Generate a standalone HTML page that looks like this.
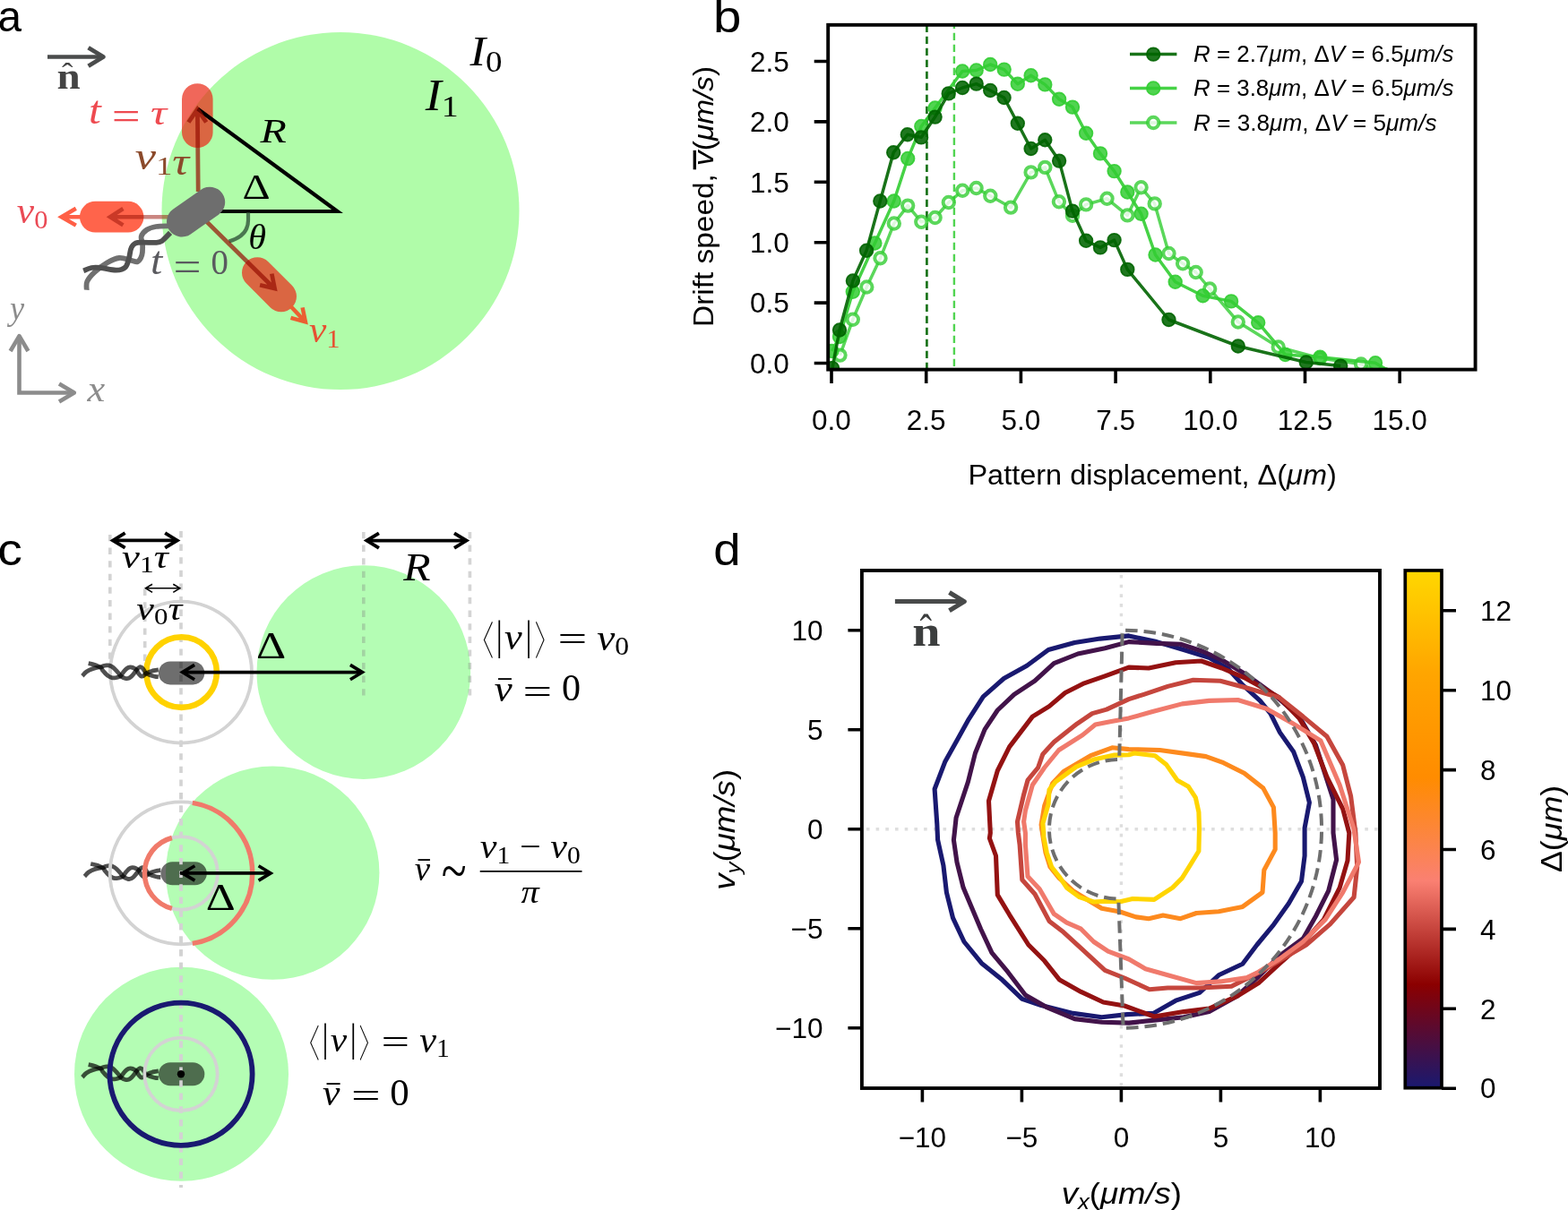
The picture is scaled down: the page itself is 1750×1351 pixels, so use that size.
<!DOCTYPE html>
<html><head><meta charset="utf-8"><title>Figure</title>
<style>html,body{margin:0;padding:0;background:#fff;width:1750px;height:1351px;overflow:hidden}svg{display:block}</style>
</head><body>
<svg width="1750" height="1351" viewBox="0 0 1750 1351">
<rect width="1750" height="1351" fill="#fff"/>
<text transform="matrix(0.4769 0 0 0.4873 -2.41 35.31)" font-family="'Liberation Sans', Arial, Helvetica, sans-serif" font-size="100" fill="#000">a</text>
<circle cx="380" cy="235.5" r="199.5" fill="#b0fca9"/>
<text transform="matrix(0.5273 0 0 0.4709 524.4 73.41)" font-family="'Liberation Serif', 'Times New Roman', serif" font-size="100" fill="#000"><tspan font-style="italic">I</tspan><tspan font-size="70" dy="14">0</tspan></text>
<text transform="matrix(0.5406 0 0 0.4962 474.7 123.05)" font-family="'Liberation Serif', 'Times New Roman', serif" font-size="100" fill="#000"><tspan font-style="italic">I</tspan><tspan font-size="70" dy="14">1</tspan></text>
<text transform="matrix(0.4797 0 0 0.3877 290.4 159.2)" font-family="'Liberation Serif', 'Times New Roman', serif" font-size="100" fill="#000" font-style="italic">R</text>
<text transform="matrix(0.4842 0 0 0.4076 270.46 221.6)" font-family="'Liberation Serif', 'Times New Roman', serif" font-size="100" fill="#000">&#916;</text>
<rect x="203" y="93.2" width="34.6" height="71.8" rx="17.3" fill="rgb(234,44,26)" fill-opacity="0.72"/>
<rect x="89" y="224.8" width="71.4" height="34.8" rx="17.4" fill="#ff644b"/>
<rect x="-36" y="-17.2" width="72" height="34.4" rx="17.2" fill="rgb(234,44,26)" fill-opacity="0.72" transform="translate(300.5,317.7) rotate(45)"/>
<path d="M90,242.2 L70,242.2 M84.8,232.8 L68.6,242.2 L84.8,251.6" fill="none" stroke="#ff5f46" stroke-width="4.5" stroke-linejoin="miter"/>
<path d="M324,341.5 L340,358.5 M324.5,354.8 L340.9,359.4 L337.6,343.4" fill="none" stroke="#eb5f32" stroke-width="4.5" stroke-linejoin="miter"/>
<polyline points="220.5,121.5 376.5,236 230,236" fill="none" stroke="#000" stroke-width="4.2" stroke-linejoin="miter" stroke-miterlimit="10"/>
<path d="M277,237.5 L277,246 C277,259 268,266 255.5,269.5" fill="none" stroke="#4a7650" stroke-width="4.2"/>
<text transform="matrix(0.4024 0 0 0.4 277.29 277.9)" font-family="'Liberation Serif', 'Times New Roman', serif" font-size="100" fill="#000" font-style="italic">&#952;</text>
<path d="M221.2,214 L220.4,124 M210.4,136.5 L220.3,122.1 L230.2,136.5" fill="none" stroke="rgb(149,14,3)" stroke-opacity="0.7" stroke-width="4.8" stroke-linejoin="miter"/>
<path d="M220,237 L305,321 M290.1,318.3 L306.6,322.1 L303.3,305.6" fill="none" stroke="rgb(149,14,3)" stroke-opacity="0.7" stroke-width="4.7" stroke-linejoin="miter"/>
<path d="M192,242.2 L125,242.2 M137.4,233 L122.9,242.2 L137.4,251.4" fill="none" stroke="rgb(149,14,3)" stroke-opacity="0.5" stroke-width="4.5" stroke-linejoin="miter"/>
<path d="M187.9,252.3 C185.62,252.42 178.2,252.3 174.2,253 C170.2,253.7 166.65,254.67 163.9,256.5 C161.15,258.33 158.5,261.27 157.7,264 C156.9,266.73 158.98,269.47 159.1,272.9 C159.22,276.33 159.32,281.4 158.4,284.6 C157.48,287.8 155.55,291.07 153.6,292.1 C151.65,293.13 150.13,291.48 146.7,290.8 C143.27,290.12 137.57,287.55 133,288 C128.43,288.45 123.87,290.87 119.3,293.5 C114.73,296.13 109.27,300.37 105.6,303.8 C101.93,307.23 98.78,310.78 97.3,314.1 C95.82,317.42 96.8,322.1 96.7,323.7" fill="none" stroke="#707070" stroke-width="5.8"/>
<path d="M190,259.9 C188.5,261.38 183.63,266.97 181,268.8 C178.37,270.63 178.77,270.55 174.2,270.9 C169.63,271.25 158.18,269.98 153.6,270.9 C149.02,271.82 148.3,273.55 146.7,276.4 C145.1,279.25 145.13,284.35 144,288 C142.87,291.65 142.3,296.02 139.9,298.3 C137.5,300.58 134.18,301.58 129.6,301.7 C125.02,301.82 116.98,299.45 112.4,299 C107.82,298.55 105.3,298.43 102.1,299 C98.9,299.57 94.68,301.83 93.2,302.4" fill="none" stroke="#505050" stroke-width="5.8"/>
<rect x="-36" y="-17" width="72" height="34" rx="17" fill="#6e6e6e" transform="translate(218.6,236.6) rotate(-35)"/>
<text transform="matrix(0.4962 0 0 0.4368 99.12 138.46)" font-family="'Liberation Serif', 'Times New Roman', serif" font-size="100" fill="#ee4a50"><tspan font-style="italic">t</tspan></text>
<text transform="matrix(0.566 0 0 0.448 124.87 144.01)" font-family="'Liberation Serif', 'Times New Roman', serif" font-size="100" fill="#ee4a50">=</text>
<text transform="matrix(0.5081 0 0 0.383 167.88 138.62)" font-family="'Liberation Serif', 'Times New Roman', serif" font-size="100" fill="#ee4a50"><tspan font-style="italic">&#964;</tspan></text>
<text transform="matrix(0.525 0 0 0.4344 150.65 188.88)" font-family="'Liberation Serif', 'Times New Roman', serif" font-size="100" fill="#8b4a2b"><tspan font-style="italic">v</tspan><tspan font-size="70" dy="14">1</tspan><tspan font-style="italic">&#964;</tspan></text>
<text transform="matrix(0.4769 0 0 0.4333 168.09 306.47)" font-family="'Liberation Serif', 'Times New Roman', serif" font-size="100" fill="#5a5a5f"><tspan font-style="italic">t</tspan></text>
<text transform="matrix(0.5511 0 0 0.456 193.54 312.58)" font-family="'Liberation Serif', 'Times New Roman', serif" font-size="100" fill="#5a5a5f">=</text>
<text transform="matrix(0.3881 0 0 0.3955 235.45 306.11)" font-family="'Liberation Serif', 'Times New Roman', serif" font-size="100" fill="#5a5a5f">0</text>
<text transform="matrix(0.4347 0 0 0.4133 18.83 248.71)" font-family="'Liberation Serif', 'Times New Roman', serif" font-size="100" fill="#ea4a55"><tspan font-style="italic">v</tspan><tspan font-size="70" dy="14">0</tspan></text>
<text transform="matrix(0.4356 0 0 0.4067 344.93 382.31)" font-family="'Liberation Serif', 'Times New Roman', serif" font-size="100" fill="#e65032"><tspan font-style="italic">v</tspan><tspan font-size="70" dy="14">1</tspan></text>
<line x1="53" y1="63.5" x2="114" y2="63.5" stroke="#4a4c4c" stroke-width="4.7"/>
<polyline points="98.6,53.3 115.4,63.5 98.6,73.7" fill="none" stroke="#4a4c4c" stroke-width="4.8" stroke-linejoin="round"/>
<text transform="matrix(0.4706 0 0 0.3936 63.39 99.1)" font-family="'Liberation Serif', 'Times New Roman', serif" font-size="100" fill="#444" font-weight="bold">n</text>
<text transform="matrix(0.375 0 0 0.34 69.03 94.1)" font-family="'Liberation Serif', 'Times New Roman', serif" font-size="100" fill="#444">&#710;</text>
<path d="M21.5,440.8 L21.5,377 M19.2,438.5 L81,438.5" fill="none" stroke="#8c8c8c" stroke-width="4.6"/>
<polyline points="11.6,392 21.5,375.2 31.4,392" fill="none" stroke="#8c8c8c" stroke-width="4.6" stroke-linejoin="round"/>
<polyline points="66,428.6 82.8,438.5 66,448.4" fill="none" stroke="#8c8c8c" stroke-width="4.6" stroke-linejoin="round"/>
<text transform="matrix(0.3635 0 0 0.3836 10.91 357.34)" font-family="'Liberation Serif', 'Times New Roman', serif" font-size="100" fill="#8c8c8c"><tspan font-style="italic">y</tspan></text>
<text transform="matrix(0.4444 0 0 0.3978 97.54 447.7)" font-family="'Liberation Serif', 'Times New Roman', serif" font-size="100" fill="#8c8c8c"><tspan font-style="italic">x</tspan></text>
<text transform="matrix(0.5636 0 0 0.5068 796.05 35.8)" font-family="'Liberation Sans', Arial, Helvetica, sans-serif" font-size="100" fill="#000">b</text>
<defs><clipPath id="clipb"><rect x="924.2" y="27.8" width="722.3999999999999" height="384.8"/></clipPath></defs>
<line x1="1034.4" y1="27.8" x2="1034.4" y2="412.6" stroke="#006400" stroke-opacity="0.9" stroke-width="2.7" stroke-dasharray="8.3,4.7"/>
<line x1="1064.9" y1="27.8" x2="1064.9" y2="412.6" stroke="#32cd32" stroke-opacity="0.85" stroke-width="2.4" stroke-dasharray="8.3,4.7" stroke-dashoffset="4"/>
<g clip-path="url(#clipb)">
<polyline points="937.5,396.6 951.8,356.8 967.3,320.5 982.5,288.3 997.8,249.5 1013.2,229.6 1028.3,247.8 1043.6,243 1058.8,226 1074.2,212.8 1089.6,210 1105.3,218.7 1128.1,231.6 1150.6,192.4 1166.3,186.9 1181.9,225.3 1197,240.8 1212.1,228.4 1235.5,221.8 1258.3,240.4 1273.6,209.3 1288.7,227.4 1304.5,283 1320.1,294.3 1334.7,304 1350.2,322.5 1381.8,359.5 1426.7,387.5 1473.3,400 1519,406.5 1545,418" fill="none" stroke="#32cd32" stroke-opacity="0.8" stroke-width="3.5" stroke-linejoin="round"/>
<circle cx="937.5" cy="396.6" r="6.2" fill="#fff" fill-opacity="0.8" stroke="#32cd32" stroke-opacity="0.8" stroke-width="4"/>
<circle cx="951.8" cy="356.8" r="6.2" fill="#fff" fill-opacity="0.8" stroke="#32cd32" stroke-opacity="0.8" stroke-width="4"/>
<circle cx="967.3" cy="320.5" r="6.2" fill="#fff" fill-opacity="0.8" stroke="#32cd32" stroke-opacity="0.8" stroke-width="4"/>
<circle cx="982.5" cy="288.3" r="6.2" fill="#fff" fill-opacity="0.8" stroke="#32cd32" stroke-opacity="0.8" stroke-width="4"/>
<circle cx="997.8" cy="249.5" r="6.2" fill="#fff" fill-opacity="0.8" stroke="#32cd32" stroke-opacity="0.8" stroke-width="4"/>
<circle cx="1013.2" cy="229.6" r="6.2" fill="#fff" fill-opacity="0.8" stroke="#32cd32" stroke-opacity="0.8" stroke-width="4"/>
<circle cx="1028.3" cy="247.8" r="6.2" fill="#fff" fill-opacity="0.8" stroke="#32cd32" stroke-opacity="0.8" stroke-width="4"/>
<circle cx="1043.6" cy="243" r="6.2" fill="#fff" fill-opacity="0.8" stroke="#32cd32" stroke-opacity="0.8" stroke-width="4"/>
<circle cx="1058.8" cy="226" r="6.2" fill="#fff" fill-opacity="0.8" stroke="#32cd32" stroke-opacity="0.8" stroke-width="4"/>
<circle cx="1074.2" cy="212.8" r="6.2" fill="#fff" fill-opacity="0.8" stroke="#32cd32" stroke-opacity="0.8" stroke-width="4"/>
<circle cx="1089.6" cy="210" r="6.2" fill="#fff" fill-opacity="0.8" stroke="#32cd32" stroke-opacity="0.8" stroke-width="4"/>
<circle cx="1105.3" cy="218.7" r="6.2" fill="#fff" fill-opacity="0.8" stroke="#32cd32" stroke-opacity="0.8" stroke-width="4"/>
<circle cx="1128.1" cy="231.6" r="6.2" fill="#fff" fill-opacity="0.8" stroke="#32cd32" stroke-opacity="0.8" stroke-width="4"/>
<circle cx="1150.6" cy="192.4" r="6.2" fill="#fff" fill-opacity="0.8" stroke="#32cd32" stroke-opacity="0.8" stroke-width="4"/>
<circle cx="1166.3" cy="186.9" r="6.2" fill="#fff" fill-opacity="0.8" stroke="#32cd32" stroke-opacity="0.8" stroke-width="4"/>
<circle cx="1181.9" cy="225.3" r="6.2" fill="#fff" fill-opacity="0.8" stroke="#32cd32" stroke-opacity="0.8" stroke-width="4"/>
<circle cx="1197" cy="240.8" r="6.2" fill="#fff" fill-opacity="0.8" stroke="#32cd32" stroke-opacity="0.8" stroke-width="4"/>
<circle cx="1212.1" cy="228.4" r="6.2" fill="#fff" fill-opacity="0.8" stroke="#32cd32" stroke-opacity="0.8" stroke-width="4"/>
<circle cx="1235.5" cy="221.8" r="6.2" fill="#fff" fill-opacity="0.8" stroke="#32cd32" stroke-opacity="0.8" stroke-width="4"/>
<circle cx="1258.3" cy="240.4" r="6.2" fill="#fff" fill-opacity="0.8" stroke="#32cd32" stroke-opacity="0.8" stroke-width="4"/>
<circle cx="1273.6" cy="209.3" r="6.2" fill="#fff" fill-opacity="0.8" stroke="#32cd32" stroke-opacity="0.8" stroke-width="4"/>
<circle cx="1288.7" cy="227.4" r="6.2" fill="#fff" fill-opacity="0.8" stroke="#32cd32" stroke-opacity="0.8" stroke-width="4"/>
<circle cx="1304.5" cy="283" r="6.2" fill="#fff" fill-opacity="0.8" stroke="#32cd32" stroke-opacity="0.8" stroke-width="4"/>
<circle cx="1320.1" cy="294.3" r="6.2" fill="#fff" fill-opacity="0.8" stroke="#32cd32" stroke-opacity="0.8" stroke-width="4"/>
<circle cx="1334.7" cy="304" r="6.2" fill="#fff" fill-opacity="0.8" stroke="#32cd32" stroke-opacity="0.8" stroke-width="4"/>
<circle cx="1350.2" cy="322.5" r="6.2" fill="#fff" fill-opacity="0.8" stroke="#32cd32" stroke-opacity="0.8" stroke-width="4"/>
<circle cx="1381.8" cy="359.5" r="6.2" fill="#fff" fill-opacity="0.8" stroke="#32cd32" stroke-opacity="0.8" stroke-width="4"/>
<circle cx="1426.7" cy="387.5" r="6.2" fill="#fff" fill-opacity="0.8" stroke="#32cd32" stroke-opacity="0.8" stroke-width="4"/>
<circle cx="1473.3" cy="400" r="6.2" fill="#fff" fill-opacity="0.8" stroke="#32cd32" stroke-opacity="0.8" stroke-width="4"/>
<circle cx="1519" cy="406.5" r="6.2" fill="#fff" fill-opacity="0.8" stroke="#32cd32" stroke-opacity="0.8" stroke-width="4"/>
<circle cx="1545" cy="418" r="6.2" fill="#fff" fill-opacity="0.8" stroke="#32cd32" stroke-opacity="0.8" stroke-width="4"/>
<polyline points="928.5,392 937,376 951.8,325.8 976.4,271.5 997.7,224.5 1013.2,177 1028.3,141 1043.6,120.5 1074.1,79.5 1089.7,78.5 1105.2,72 1120.7,77.6 1135.8,93.8 1150.6,84.2 1166.3,94.4 1182.1,110.8 1197,119.6 1212.1,148.7 1228,171.4 1243.6,191.1 1258.3,214.5 1273.6,238.7 1289.5,284.5 1311.7,314.7 1342.5,330.2 1374.1,336.4 1404.2,360.3 1434.5,396 1473.3,398.7 1535,405.2 1560,420" fill="none" stroke="#32cd32" stroke-opacity="0.9" stroke-width="3.5" stroke-linejoin="round"/>
<circle cx="928.5" cy="392" r="7.3" fill="#32cd32" fill-opacity="0.85" stroke="#32cd32" stroke-opacity="0.9" stroke-width="1.8"/>
<circle cx="937" cy="376" r="7.3" fill="#32cd32" fill-opacity="0.85" stroke="#32cd32" stroke-opacity="0.9" stroke-width="1.8"/>
<circle cx="951.8" cy="325.8" r="7.3" fill="#32cd32" fill-opacity="0.85" stroke="#32cd32" stroke-opacity="0.9" stroke-width="1.8"/>
<circle cx="976.4" cy="271.5" r="7.3" fill="#32cd32" fill-opacity="0.85" stroke="#32cd32" stroke-opacity="0.9" stroke-width="1.8"/>
<circle cx="997.7" cy="224.5" r="7.3" fill="#32cd32" fill-opacity="0.85" stroke="#32cd32" stroke-opacity="0.9" stroke-width="1.8"/>
<circle cx="1013.2" cy="177" r="7.3" fill="#32cd32" fill-opacity="0.85" stroke="#32cd32" stroke-opacity="0.9" stroke-width="1.8"/>
<circle cx="1028.3" cy="141" r="7.3" fill="#32cd32" fill-opacity="0.85" stroke="#32cd32" stroke-opacity="0.9" stroke-width="1.8"/>
<circle cx="1043.6" cy="120.5" r="7.3" fill="#32cd32" fill-opacity="0.85" stroke="#32cd32" stroke-opacity="0.9" stroke-width="1.8"/>
<circle cx="1074.1" cy="79.5" r="7.3" fill="#32cd32" fill-opacity="0.85" stroke="#32cd32" stroke-opacity="0.9" stroke-width="1.8"/>
<circle cx="1089.7" cy="78.5" r="7.3" fill="#32cd32" fill-opacity="0.85" stroke="#32cd32" stroke-opacity="0.9" stroke-width="1.8"/>
<circle cx="1105.2" cy="72" r="7.3" fill="#32cd32" fill-opacity="0.85" stroke="#32cd32" stroke-opacity="0.9" stroke-width="1.8"/>
<circle cx="1120.7" cy="77.6" r="7.3" fill="#32cd32" fill-opacity="0.85" stroke="#32cd32" stroke-opacity="0.9" stroke-width="1.8"/>
<circle cx="1135.8" cy="93.8" r="7.3" fill="#32cd32" fill-opacity="0.85" stroke="#32cd32" stroke-opacity="0.9" stroke-width="1.8"/>
<circle cx="1150.6" cy="84.2" r="7.3" fill="#32cd32" fill-opacity="0.85" stroke="#32cd32" stroke-opacity="0.9" stroke-width="1.8"/>
<circle cx="1166.3" cy="94.4" r="7.3" fill="#32cd32" fill-opacity="0.85" stroke="#32cd32" stroke-opacity="0.9" stroke-width="1.8"/>
<circle cx="1182.1" cy="110.8" r="7.3" fill="#32cd32" fill-opacity="0.85" stroke="#32cd32" stroke-opacity="0.9" stroke-width="1.8"/>
<circle cx="1197" cy="119.6" r="7.3" fill="#32cd32" fill-opacity="0.85" stroke="#32cd32" stroke-opacity="0.9" stroke-width="1.8"/>
<circle cx="1212.1" cy="148.7" r="7.3" fill="#32cd32" fill-opacity="0.85" stroke="#32cd32" stroke-opacity="0.9" stroke-width="1.8"/>
<circle cx="1228" cy="171.4" r="7.3" fill="#32cd32" fill-opacity="0.85" stroke="#32cd32" stroke-opacity="0.9" stroke-width="1.8"/>
<circle cx="1243.6" cy="191.1" r="7.3" fill="#32cd32" fill-opacity="0.85" stroke="#32cd32" stroke-opacity="0.9" stroke-width="1.8"/>
<circle cx="1258.3" cy="214.5" r="7.3" fill="#32cd32" fill-opacity="0.85" stroke="#32cd32" stroke-opacity="0.9" stroke-width="1.8"/>
<circle cx="1273.6" cy="238.7" r="7.3" fill="#32cd32" fill-opacity="0.85" stroke="#32cd32" stroke-opacity="0.9" stroke-width="1.8"/>
<circle cx="1289.5" cy="284.5" r="7.3" fill="#32cd32" fill-opacity="0.85" stroke="#32cd32" stroke-opacity="0.9" stroke-width="1.8"/>
<circle cx="1311.7" cy="314.7" r="7.3" fill="#32cd32" fill-opacity="0.85" stroke="#32cd32" stroke-opacity="0.9" stroke-width="1.8"/>
<circle cx="1342.5" cy="330.2" r="7.3" fill="#32cd32" fill-opacity="0.85" stroke="#32cd32" stroke-opacity="0.9" stroke-width="1.8"/>
<circle cx="1374.1" cy="336.4" r="7.3" fill="#32cd32" fill-opacity="0.85" stroke="#32cd32" stroke-opacity="0.9" stroke-width="1.8"/>
<circle cx="1404.2" cy="360.3" r="7.3" fill="#32cd32" fill-opacity="0.85" stroke="#32cd32" stroke-opacity="0.9" stroke-width="1.8"/>
<circle cx="1434.5" cy="396" r="7.3" fill="#32cd32" fill-opacity="0.85" stroke="#32cd32" stroke-opacity="0.9" stroke-width="1.8"/>
<circle cx="1473.3" cy="398.7" r="7.3" fill="#32cd32" fill-opacity="0.85" stroke="#32cd32" stroke-opacity="0.9" stroke-width="1.8"/>
<circle cx="1535" cy="405.2" r="7.3" fill="#32cd32" fill-opacity="0.85" stroke="#32cd32" stroke-opacity="0.9" stroke-width="1.8"/>
<circle cx="1560" cy="420" r="7.3" fill="#32cd32" fill-opacity="0.85" stroke="#32cd32" stroke-opacity="0.9" stroke-width="1.8"/>
<polyline points="929,411 937,368.5 951.9,313.5 967.1,279.8 982.3,224.5 997.2,170.3 1012.8,150.2 1028.1,153.4 1043.6,130.6 1058.7,104.4 1074.1,98 1089.7,93.6 1105.2,101 1120.6,109 1135.8,137.8 1150.6,166 1166.3,156.3 1182.1,179.6 1197,235.6 1212.1,268.8 1228,276.4 1243.6,268.1 1258.3,300.9 1304.5,357 1381.8,386.5 1457.8,404.5 1496.2,408.6" fill="none" stroke="#006400" stroke-opacity="0.9" stroke-width="3.5" stroke-linejoin="round"/>
<circle cx="929" cy="411" r="7.3" fill="#006400" fill-opacity="0.88" stroke="#006400" stroke-opacity="0.9" stroke-width="1.8"/>
<circle cx="937" cy="368.5" r="7.3" fill="#006400" fill-opacity="0.88" stroke="#006400" stroke-opacity="0.9" stroke-width="1.8"/>
<circle cx="951.9" cy="313.5" r="7.3" fill="#006400" fill-opacity="0.88" stroke="#006400" stroke-opacity="0.9" stroke-width="1.8"/>
<circle cx="967.1" cy="279.8" r="7.3" fill="#006400" fill-opacity="0.88" stroke="#006400" stroke-opacity="0.9" stroke-width="1.8"/>
<circle cx="982.3" cy="224.5" r="7.3" fill="#006400" fill-opacity="0.88" stroke="#006400" stroke-opacity="0.9" stroke-width="1.8"/>
<circle cx="997.2" cy="170.3" r="7.3" fill="#006400" fill-opacity="0.88" stroke="#006400" stroke-opacity="0.9" stroke-width="1.8"/>
<circle cx="1012.8" cy="150.2" r="7.3" fill="#006400" fill-opacity="0.88" stroke="#006400" stroke-opacity="0.9" stroke-width="1.8"/>
<circle cx="1028.1" cy="153.4" r="7.3" fill="#006400" fill-opacity="0.88" stroke="#006400" stroke-opacity="0.9" stroke-width="1.8"/>
<circle cx="1043.6" cy="130.6" r="7.3" fill="#006400" fill-opacity="0.88" stroke="#006400" stroke-opacity="0.9" stroke-width="1.8"/>
<circle cx="1058.7" cy="104.4" r="7.3" fill="#006400" fill-opacity="0.88" stroke="#006400" stroke-opacity="0.9" stroke-width="1.8"/>
<circle cx="1074.1" cy="98" r="7.3" fill="#006400" fill-opacity="0.88" stroke="#006400" stroke-opacity="0.9" stroke-width="1.8"/>
<circle cx="1089.7" cy="93.6" r="7.3" fill="#006400" fill-opacity="0.88" stroke="#006400" stroke-opacity="0.9" stroke-width="1.8"/>
<circle cx="1105.2" cy="101" r="7.3" fill="#006400" fill-opacity="0.88" stroke="#006400" stroke-opacity="0.9" stroke-width="1.8"/>
<circle cx="1120.6" cy="109" r="7.3" fill="#006400" fill-opacity="0.88" stroke="#006400" stroke-opacity="0.9" stroke-width="1.8"/>
<circle cx="1135.8" cy="137.8" r="7.3" fill="#006400" fill-opacity="0.88" stroke="#006400" stroke-opacity="0.9" stroke-width="1.8"/>
<circle cx="1150.6" cy="166" r="7.3" fill="#006400" fill-opacity="0.88" stroke="#006400" stroke-opacity="0.9" stroke-width="1.8"/>
<circle cx="1166.3" cy="156.3" r="7.3" fill="#006400" fill-opacity="0.88" stroke="#006400" stroke-opacity="0.9" stroke-width="1.8"/>
<circle cx="1182.1" cy="179.6" r="7.3" fill="#006400" fill-opacity="0.88" stroke="#006400" stroke-opacity="0.9" stroke-width="1.8"/>
<circle cx="1197" cy="235.6" r="7.3" fill="#006400" fill-opacity="0.88" stroke="#006400" stroke-opacity="0.9" stroke-width="1.8"/>
<circle cx="1212.1" cy="268.8" r="7.3" fill="#006400" fill-opacity="0.88" stroke="#006400" stroke-opacity="0.9" stroke-width="1.8"/>
<circle cx="1228" cy="276.4" r="7.3" fill="#006400" fill-opacity="0.88" stroke="#006400" stroke-opacity="0.9" stroke-width="1.8"/>
<circle cx="1243.6" cy="268.1" r="7.3" fill="#006400" fill-opacity="0.88" stroke="#006400" stroke-opacity="0.9" stroke-width="1.8"/>
<circle cx="1258.3" cy="300.9" r="7.3" fill="#006400" fill-opacity="0.88" stroke="#006400" stroke-opacity="0.9" stroke-width="1.8"/>
<circle cx="1304.5" cy="357" r="7.3" fill="#006400" fill-opacity="0.88" stroke="#006400" stroke-opacity="0.9" stroke-width="1.8"/>
<circle cx="1381.8" cy="386.5" r="7.3" fill="#006400" fill-opacity="0.88" stroke="#006400" stroke-opacity="0.9" stroke-width="1.8"/>
<circle cx="1457.8" cy="404.5" r="7.3" fill="#006400" fill-opacity="0.88" stroke="#006400" stroke-opacity="0.9" stroke-width="1.8"/>
<circle cx="1496.2" cy="408.6" r="7.3" fill="#006400" fill-opacity="0.88" stroke="#006400" stroke-opacity="0.9" stroke-width="1.8"/>
</g>
<rect x="924.2" y="27.8" width="722.3999999999999" height="384.8" fill="none" stroke="#000" stroke-width="3.9"/>
<text x="880.8" y="416.7" font-family="'Liberation Sans', Arial, Helvetica, sans-serif" font-size="31.5" fill="#000" text-anchor="end">0.0</text>
<text x="880.8" y="349.3" font-family="'Liberation Sans', Arial, Helvetica, sans-serif" font-size="31.5" fill="#000" text-anchor="end">0.5</text>
<text x="880.8" y="281.9" font-family="'Liberation Sans', Arial, Helvetica, sans-serif" font-size="31.5" fill="#000" text-anchor="end">1.0</text>
<text x="880.8" y="214.5" font-family="'Liberation Sans', Arial, Helvetica, sans-serif" font-size="31.5" fill="#000" text-anchor="end">1.5</text>
<text x="880.8" y="147.1" font-family="'Liberation Sans', Arial, Helvetica, sans-serif" font-size="31.5" fill="#000" text-anchor="end">2.0</text>
<text x="880.8" y="79.7" font-family="'Liberation Sans', Arial, Helvetica, sans-serif" font-size="31.5" fill="#000" text-anchor="end">2.5</text>
<text x="928" y="479.6" font-family="'Liberation Sans', Arial, Helvetica, sans-serif" font-size="31.5" fill="#000" text-anchor="middle">0.0</text>
<text x="1033.7" y="479.6" font-family="'Liberation Sans', Arial, Helvetica, sans-serif" font-size="31.5" fill="#000" text-anchor="middle">2.5</text>
<text x="1139.4" y="479.6" font-family="'Liberation Sans', Arial, Helvetica, sans-serif" font-size="31.5" fill="#000" text-anchor="middle">5.0</text>
<text x="1245.1" y="479.6" font-family="'Liberation Sans', Arial, Helvetica, sans-serif" font-size="31.5" fill="#000" text-anchor="middle">7.5</text>
<text x="1350.8" y="479.6" font-family="'Liberation Sans', Arial, Helvetica, sans-serif" font-size="31.5" fill="#000" text-anchor="middle">10.0</text>
<text x="1456.5" y="479.6" font-family="'Liberation Sans', Arial, Helvetica, sans-serif" font-size="31.5" fill="#000" text-anchor="middle">12.5</text>
<text x="1562.2" y="479.6" font-family="'Liberation Sans', Arial, Helvetica, sans-serif" font-size="31.5" fill="#000" text-anchor="middle">15.0</text>
<path d="M908.7,405.5 L924.2,405.5 M908.7,338.1 L924.2,338.1 M908.7,270.7 L924.2,270.7 M908.7,203.3 L924.2,203.3 M908.7,135.9 L924.2,135.9 M908.7,68.5 L924.2,68.5 M928,412.6 L928,428.1 M1033.7,412.6 L1033.7,428.1 M1139.4,412.6 L1139.4,428.1 M1245.1,412.6 L1245.1,428.1 M1350.8,412.6 L1350.8,428.1 M1456.5,412.6 L1456.5,428.1 M1562.2,412.6 L1562.2,428.1" stroke="#000" stroke-width="3.6" fill="none"/>
<text transform="matrix(0.3248 0 0 0.3202 1080.4 541.48)" font-family="'Liberation Sans', Arial, Helvetica, sans-serif" font-size="100" fill="#000">Pattern displacement, &#916;(<tspan font-style="italic">&#956;m</tspan>)</text>
<text transform="rotate(-90) matrix(0.3341 0 0 0.3213 -364.97 795.75)" font-family="'Liberation Sans', Arial, Helvetica, sans-serif" font-size="100" fill="#000">Drift speed, <tspan font-style="italic">v</tspan>(<tspan font-style="italic">&#956;m/s</tspan>)</text>
<text transform="rotate(-90) matrix(0.3772 0 0 0.75 -189.12 830.05)" font-family="'Liberation Sans', Arial, Helvetica, sans-serif" font-size="100" fill="#000">&#175;</text>
<line x1="1261" y1="60.6" x2="1313.4" y2="60.6" stroke="#006400" stroke-opacity="0.9" stroke-width="3.5"/>
<circle cx="1287.2" cy="60.6" r="7.3" fill="#006400" fill-opacity="0.88" stroke="#006400" stroke-opacity="0.9" stroke-width="1.8"/>
<text transform="matrix(0.2591 0 0 0.2554 1332.02 69.15)" font-family="'Liberation Sans', Arial, Helvetica, sans-serif" font-size="100" fill="#000"><tspan font-style="italic">R</tspan> = 2.7<tspan font-style="italic">&#956;m</tspan>, &#916;<tspan font-style="italic">V</tspan> = 6.5<tspan font-style="italic">&#956;m/s</tspan></text>
<line x1="1261" y1="98.5" x2="1313.4" y2="98.5" stroke="#32cd32" stroke-opacity="0.9" stroke-width="3.5"/>
<circle cx="1287.2" cy="98.5" r="7.3" fill="#32cd32" fill-opacity="0.85" stroke="#32cd32" stroke-opacity="0.9" stroke-width="1.8"/>
<text transform="matrix(0.2591 0 0 0.2554 1332.02 107.05)" font-family="'Liberation Sans', Arial, Helvetica, sans-serif" font-size="100" fill="#000"><tspan font-style="italic">R</tspan> = 3.8<tspan font-style="italic">&#956;m</tspan>, &#916;<tspan font-style="italic">V</tspan> = 6.5<tspan font-style="italic">&#956;m/s</tspan></text>
<line x1="1261" y1="137" x2="1313.4" y2="137" stroke="#32cd32" stroke-opacity="0.8" stroke-width="3.5"/>
<circle cx="1287.2" cy="137" r="6.2" fill="#fff" fill-opacity="0.8" stroke="#32cd32" stroke-opacity="0.8" stroke-width="4"/>
<text transform="matrix(0.2617 0 0 0.2554 1332.01 145.55)" font-family="'Liberation Sans', Arial, Helvetica, sans-serif" font-size="100" fill="#000"><tspan font-style="italic">R</tspan> = 3.8<tspan font-style="italic">&#956;m</tspan>, &#916;<tspan font-style="italic">V</tspan> = 5<tspan font-style="italic">&#956;m/s</tspan></text>
<text transform="matrix(0.5535 0 0 0.4909 -2.71 631.11)" font-family="'Liberation Sans', Arial, Helvetica, sans-serif" font-size="100" fill="#000">c</text>
<circle cx="405.8" cy="750.6" r="119.3" fill="#b4fdb4"/>
<circle cx="304.2" cy="974.6" r="119.2" fill="#b4fdb4"/>
<circle cx="202.5" cy="1199.3" r="119.5" fill="#b4fdb4"/>
<circle cx="202.0" cy="750.6" r="79" fill="none" stroke="#d3d3d3" stroke-width="3.8"/>
<line x1="122.8" y1="597" x2="122.8" y2="750.6" stroke="#d3d3d3" stroke-width="3.6" stroke-dasharray="7.3,7.3" stroke-dashoffset="0"/>
<line x1="161.7" y1="657.6" x2="161.7" y2="750.6" stroke="#d3d3d3" stroke-width="3.6" stroke-dasharray="7.3,7.3" stroke-dashoffset="0"/>
<line x1="405.8" y1="594" x2="405.8" y2="778.7" stroke="#808080" stroke-opacity="0.34" stroke-width="3.6" stroke-dasharray="7.3,7.3" stroke-dashoffset="0"/>
<line x1="524.4" y1="594" x2="524.4" y2="778.7" stroke="#808080" stroke-opacity="0.34" stroke-width="3.6" stroke-dasharray="7.3,7.3" stroke-dashoffset="0"/>
<line x1="202" y1="593" x2="202" y2="1326" stroke="#d3d3d3" stroke-width="3.6" stroke-dasharray="7.3,7.3" stroke-dashoffset="0"/>
<circle cx="202.6" cy="750.6" r="39.3" fill="none" stroke="#ffd200" stroke-width="6.6"/>
<path d="M98.7,740.7 C99.83,740.95 103.3,741.48 105.5,742.2 C107.7,742.92 110.45,744.7 111.9,745 C113.35,745.3 113.42,744.32 114.18,744.02 C114.94,743.73 115.7,743.44 116.46,743.24 C117.22,743.04 117.98,742.87 118.74,742.81 C119.5,742.76 120.26,742.77 121.02,742.89 C121.78,743.01 122.54,743.23 123.3,743.55 C124.06,743.87 124.82,744.3 125.58,744.83 C126.34,745.35 127.1,745.99 127.86,746.69 C128.62,747.4 129.38,748.21 130.14,749.06 C130.9,749.91 131.66,750.84 132.42,751.78 C133.18,752.72 134.02,754.02 134.7,754.7 C135.38,755.38 135.88,755.51 136.47,755.87 C137.06,756.24 137.65,756.59 138.24,756.87 C138.83,757.14 139.42,757.38 140.01,757.51 C140.6,757.65 141.19,757.72 141.78,757.69 C142.37,757.65 142.96,757.53 143.55,757.3 C144.14,757.07 144.73,756.74 145.32,756.33 C145.91,755.91 146.5,755.38 147.09,754.79 C147.68,754.2 148.27,753.51 148.86,752.79 C149.45,752.06 150.04,751.25 150.63,750.43 C151.22,749.62 151.93,748.51 152.4,747.9 C152.87,747.29 153.09,747.11 153.43,746.75 C153.77,746.4 154.12,746.04 154.46,745.76 C154.8,745.48 155.15,745.22 155.49,745.05 C155.83,744.89 156.18,744.77 156.52,744.74 C156.86,744.72 157.21,744.77 157.55,744.9 C157.89,745.03 158.24,745.25 158.58,745.54 C158.92,745.84 159.27,746.22 159.61,746.65 C159.95,747.09 160.3,747.61 160.64,748.16 C160.98,748.71 161.33,749.33 161.67,749.95 C162.01,750.58 162.23,751.46 162.7,751.9 C163.17,752.34 163.87,752.38 164.46,752.61 C165.05,752.85 165.64,753.08 166.22,753.3 C166.81,753.52 167.4,753.74 167.99,753.94 C168.58,754.14 169.16,754.33 169.75,754.5 C170.34,754.68 170.92,754.84 171.51,754.98 C172.1,755.12 172.69,755.24 173.28,755.34 C173.86,755.44 174.45,755.52 175.04,755.58 C175.63,755.64 176.51,755.68 176.8,755.7" fill="none" stroke="#000" stroke-opacity="0.69" stroke-width="4.8"/><path d="M91.9,754.7 C92.67,753.92 94.57,751.35 96.5,750 C98.43,748.65 100.93,747.43 103.5,746.6 C106.07,745.77 110.12,744.78 111.9,745 C113.68,745.22 113.42,746.98 114.18,747.92 C114.94,748.86 115.7,749.79 116.46,750.64 C117.22,751.49 117.98,752.3 118.74,753.01 C119.5,753.71 120.26,754.35 121.02,754.87 C121.78,755.4 122.54,755.83 123.3,756.15 C124.06,756.47 124.82,756.69 125.58,756.81 C126.34,756.93 127.1,756.94 127.86,756.89 C128.62,756.83 129.38,756.66 130.14,756.46 C130.9,756.26 131.66,755.97 132.42,755.68 C133.18,755.38 134.02,755.29 134.7,754.7 C135.38,754.11 135.88,752.98 136.47,752.17 C137.06,751.35 137.65,750.54 138.24,749.81 C138.83,749.09 139.42,748.4 140.01,747.81 C140.6,747.22 141.19,746.69 141.78,746.27 C142.37,745.86 142.96,745.53 143.55,745.3 C144.14,745.07 144.73,744.95 145.32,744.91 C145.91,744.88 146.5,744.95 147.09,745.09 C147.68,745.22 148.27,745.46 148.86,745.73 C149.45,746.01 150.04,746.36 150.63,746.73 C151.22,747.09 151.93,747.38 152.4,747.9 C152.87,748.42 153.09,749.22 153.43,749.85 C153.77,750.47 154.12,751.09 154.46,751.64 C154.8,752.19 155.15,752.71 155.49,753.15 C155.83,753.58 156.18,753.96 156.52,754.26 C156.86,754.55 157.21,754.77 157.55,754.9 C157.89,755.03 158.24,755.08 158.58,755.06 C158.92,755.03 159.27,754.91 159.61,754.75 C159.95,754.58 160.3,754.32 160.64,754.04 C160.98,753.76 161.33,753.4 161.67,753.05 C162.01,752.69 162.23,752.21 162.7,751.9 C163.17,751.59 163.87,751.4 164.46,751.16 C165.05,750.92 165.64,750.68 166.22,750.45 C166.81,750.22 167.4,749.99 167.99,749.79 C168.58,749.58 169.16,749.38 169.75,749.2 C170.34,749.01 170.92,748.85 171.51,748.7 C172.1,748.55 172.69,748.42 173.28,748.31 C173.86,748.2 174.45,748.11 175.04,748.04 C175.63,747.97 176.51,747.92 176.8,747.9" fill="none" stroke="#000" stroke-opacity="0.69" stroke-width="4.8"/>
<rect x="176.9" y="738.4" width="51.4" height="26" rx="13" fill="#000" fill-opacity="0.57"/>
<line x1="204.6" y1="750.6" x2="403.4" y2="750.6" stroke="#000" stroke-width="3.6"/><polyline points="217.1,742.4 203.6,750.6 217.1,758.8" fill="none" stroke="#000" stroke-width="3.6" stroke-linejoin="miter"/><polyline points="390.9,742.4 404.4,750.6 390.9,758.8" fill="none" stroke="#000" stroke-width="3.6" stroke-linejoin="miter"/>
<line x1="127.1" y1="603.4" x2="196.7" y2="603.4" stroke="#000" stroke-width="3.9"/><polyline points="139.6,595.2 126.1,603.4 139.6,611.6" fill="none" stroke="#000" stroke-width="3.9" stroke-linejoin="miter"/><polyline points="184.2,595.2 197.7,603.4 184.2,611.6" fill="none" stroke="#000" stroke-width="3.9" stroke-linejoin="miter"/>
<line x1="410.4" y1="603.6" x2="519.5" y2="603.6" stroke="#000" stroke-width="3.9"/><polyline points="422.9,595.4 409.4,603.6 422.9,611.8" fill="none" stroke="#000" stroke-width="3.9" stroke-linejoin="miter"/><polyline points="507,595.4 520.5,603.6 507,611.8" fill="none" stroke="#000" stroke-width="3.9" stroke-linejoin="miter"/>
<line x1="163.5" y1="656.8" x2="199.8" y2="656.8" stroke="#000" stroke-width="1.6"/><polyline points="170,652.2 162.5,656.8 170,661.4" fill="none" stroke="#000" stroke-width="1.6" stroke-linejoin="miter"/><polyline points="193.3,652.2 200.8,656.8 193.3,661.4" fill="none" stroke="#000" stroke-width="1.6" stroke-linejoin="miter"/>
<text transform="matrix(0.4491 0 0 0.3667 136 634.17)" font-family="'Liberation Serif', 'Times New Roman', serif" font-size="100" fill="#000"><tspan font-style="italic">v</tspan><tspan font-size="70" dy="14">1</tspan><tspan dy="-14"><tspan font-style="italic">&#964;</tspan></tspan></text>
<text transform="matrix(0.4422 0 0 0.3667 152.32 691.57)" font-family="'Liberation Serif', 'Times New Roman', serif" font-size="100" fill="#000"><tspan font-style="italic">v</tspan><tspan font-size="70" dy="14">0</tspan><tspan dy="-14"><tspan font-style="italic">&#964;</tspan></tspan></text>
<text transform="matrix(0.4966 0 0 0.4508 450.3 647.6)" font-family="'Liberation Serif', 'Times New Roman', serif" font-size="100" fill="#000"><tspan font-style="italic">R</tspan></text>
<text transform="matrix(0.5158 0 0 0.4273 285.94 734.6)" font-family="'Liberation Serif', 'Times New Roman', serif" font-size="100" fill="#000">&#916;</text>
<text transform="matrix(0.231 0 0 0.4383 527.53 730.96)" font-family="'Liberation Serif', 'Noto Serif CJK SC', serif" font-size="100" fill="#000" font-weight="500">&#12296;</text>
<text transform="matrix(0.35 0 0 0.4578 553.8 725.29)" font-family="'Liberation Serif', 'Times New Roman', serif" font-size="100" fill="#000">|</text>
<text transform="matrix(0.4429 0 0 0.4 563.11 724.7)" font-family="'Liberation Serif', 'Times New Roman', serif" font-size="100" fill="#000"><tspan font-style="italic">v</tspan></text>
<text transform="matrix(0.35 0 0 0.4578 586.6 725.29)" font-family="'Liberation Serif', 'Times New Roman', serif" font-size="100" fill="#000">|</text>
<text transform="matrix(0.2214 0 0 0.4383 597.21 730.96)" font-family="'Liberation Serif', 'Noto Serif CJK SC', serif" font-size="100" fill="#000" font-weight="500">&#12297;</text>
<text transform="matrix(0.5809 0 0 0.372 622.6 726.41)" font-family="'Liberation Serif', 'Times New Roman', serif" font-size="100" fill="#000">=</text>
<text transform="matrix(0.452 0 0 0.4183 666.3 725.54)" font-family="'Liberation Serif', 'Times New Roman', serif" font-size="100" fill="#000"><tspan font-style="italic">v</tspan><tspan font-size="70" dy="14">0</tspan></text>
<text transform="matrix(0.45 0 0 0.4043 551.7 782.6)" font-family="'Liberation Serif', 'Times New Roman', serif" font-size="100" fill="#000"><tspan font-style="italic">v</tspan></text>
<text transform="matrix(0.2885 0 0 0.4 556.29 788)" font-family="'Liberation Serif', 'Times New Roman', serif" font-size="100" fill="#000">&#175;</text>
<text transform="matrix(0.5787 0 0 0.384 583.61 785.16)" font-family="'Liberation Serif', 'Times New Roman', serif" font-size="100" fill="#000">=</text>
<text transform="matrix(0.4214 0 0 0.4179 626.91 782.06)" font-family="'Liberation Serif', 'Times New Roman', serif" font-size="100" fill="#000">0</text>
<path d="M101.2,964.5 C102.33,964.75 105.8,965.28 108,966 C110.2,966.72 112.95,968.5 114.4,968.8 C115.85,969.1 115.92,968.12 116.68,967.82 C117.44,967.53 118.2,967.24 118.96,967.04 C119.72,966.84 120.48,966.67 121.24,966.61 C122,966.56 122.76,966.57 123.52,966.69 C124.28,966.81 125.04,967.03 125.8,967.35 C126.56,967.67 127.32,968.1 128.08,968.63 C128.84,969.15 129.6,969.79 130.36,970.49 C131.12,971.2 131.88,972.01 132.64,972.86 C133.4,973.71 134.16,974.64 134.92,975.58 C135.68,976.52 136.52,977.82 137.2,978.5 C137.88,979.18 138.38,979.31 138.97,979.67 C139.56,980.04 140.15,980.39 140.74,980.67 C141.33,980.94 141.92,981.18 142.51,981.31 C143.1,981.45 143.69,981.52 144.28,981.49 C144.87,981.45 145.46,981.33 146.05,981.1 C146.64,980.87 147.23,980.54 147.82,980.13 C148.41,979.71 149,979.18 149.59,978.59 C150.18,978 150.77,977.31 151.36,976.59 C151.95,975.86 152.54,975.05 153.13,974.23 C153.72,973.42 154.43,972.31 154.9,971.7 C155.37,971.09 155.59,970.91 155.93,970.55 C156.27,970.2 156.62,969.84 156.96,969.56 C157.3,969.28 157.65,969.02 157.99,968.85 C158.33,968.69 158.68,968.57 159.02,968.54 C159.36,968.52 159.71,968.57 160.05,968.7 C160.39,968.83 160.74,969.05 161.08,969.34 C161.42,969.64 161.77,970.02 162.11,970.45 C162.45,970.89 162.8,971.41 163.14,971.96 C163.48,972.51 163.83,973.13 164.17,973.75 C164.51,974.38 164.73,975.26 165.2,975.7 C165.67,976.14 166.37,976.18 166.96,976.41 C167.55,976.65 168.14,976.88 168.72,977.1 C169.31,977.32 169.9,977.54 170.49,977.74 C171.08,977.94 171.66,978.13 172.25,978.3 C172.84,978.48 173.42,978.64 174.01,978.78 C174.6,978.92 175.19,979.04 175.78,979.14 C176.36,979.24 176.95,979.32 177.54,979.38 C178.13,979.44 179.01,979.48 179.3,979.5" fill="none" stroke="#000" stroke-opacity="0.69" stroke-width="4.8"/><path d="M94.4,978.5 C95.17,977.72 97.07,975.15 99,973.8 C100.93,972.45 103.43,971.23 106,970.4 C108.57,969.57 112.62,968.58 114.4,968.8 C116.18,969.02 115.92,970.78 116.68,971.72 C117.44,972.66 118.2,973.59 118.96,974.44 C119.72,975.29 120.48,976.1 121.24,976.81 C122,977.51 122.76,978.15 123.52,978.67 C124.28,979.2 125.04,979.63 125.8,979.95 C126.56,980.27 127.32,980.49 128.08,980.61 C128.84,980.73 129.6,980.74 130.36,980.69 C131.12,980.63 131.88,980.46 132.64,980.26 C133.4,980.06 134.16,979.77 134.92,979.48 C135.68,979.18 136.52,979.09 137.2,978.5 C137.88,977.91 138.38,976.78 138.97,975.97 C139.56,975.15 140.15,974.34 140.74,973.61 C141.33,972.89 141.92,972.2 142.51,971.61 C143.1,971.02 143.69,970.49 144.28,970.07 C144.87,969.66 145.46,969.33 146.05,969.1 C146.64,968.87 147.23,968.75 147.82,968.71 C148.41,968.68 149,968.75 149.59,968.89 C150.18,969.02 150.77,969.26 151.36,969.53 C151.95,969.81 152.54,970.16 153.13,970.53 C153.72,970.89 154.43,971.18 154.9,971.7 C155.37,972.22 155.59,973.02 155.93,973.65 C156.27,974.27 156.62,974.89 156.96,975.44 C157.3,975.99 157.65,976.51 157.99,976.95 C158.33,977.38 158.68,977.76 159.02,978.06 C159.36,978.35 159.71,978.57 160.05,978.7 C160.39,978.83 160.74,978.88 161.08,978.86 C161.42,978.83 161.77,978.71 162.11,978.55 C162.45,978.38 162.8,978.12 163.14,977.84 C163.48,977.56 163.83,977.2 164.17,976.85 C164.51,976.49 164.73,976.01 165.2,975.7 C165.67,975.39 166.37,975.2 166.96,974.96 C167.55,974.72 168.14,974.48 168.72,974.25 C169.31,974.02 169.9,973.79 170.49,973.59 C171.08,973.38 171.66,973.18 172.25,973 C172.84,972.81 173.42,972.65 174.01,972.5 C174.6,972.35 175.19,972.22 175.78,972.11 C176.36,972 176.95,971.91 177.54,971.84 C178.13,971.77 179.01,971.72 179.3,971.7" fill="none" stroke="#000" stroke-opacity="0.69" stroke-width="4.8"/>
<rect x="179.4" y="962.2" width="51.4" height="26" rx="13" fill="#000" fill-opacity="0.57"/>
<path d="M98.7,1188.7 C99.83,1188.95 103.3,1189.48 105.5,1190.2 C107.7,1190.92 110.45,1192.7 111.9,1193 C113.35,1193.3 113.42,1192.32 114.18,1192.02 C114.94,1191.73 115.7,1191.44 116.46,1191.24 C117.22,1191.04 117.98,1190.87 118.74,1190.81 C119.5,1190.76 120.26,1190.77 121.02,1190.89 C121.78,1191.01 122.54,1191.23 123.3,1191.55 C124.06,1191.87 124.82,1192.3 125.58,1192.83 C126.34,1193.35 127.1,1193.99 127.86,1194.69 C128.62,1195.4 129.38,1196.21 130.14,1197.06 C130.9,1197.91 131.66,1198.84 132.42,1199.78 C133.18,1200.72 134.02,1202.02 134.7,1202.7 C135.38,1203.38 135.88,1203.51 136.47,1203.87 C137.06,1204.24 137.65,1204.59 138.24,1204.87 C138.83,1205.14 139.42,1205.38 140.01,1205.51 C140.6,1205.65 141.19,1205.72 141.78,1205.69 C142.37,1205.65 142.96,1205.53 143.55,1205.3 C144.14,1205.07 144.73,1204.74 145.32,1204.33 C145.91,1203.91 146.5,1203.38 147.09,1202.79 C147.68,1202.2 148.27,1201.51 148.86,1200.79 C149.45,1200.06 150.04,1199.25 150.63,1198.43 C151.22,1197.62 151.93,1196.51 152.4,1195.9 C152.87,1195.29 153.09,1195.11 153.43,1194.75 C153.77,1194.4 154.12,1194.04 154.46,1193.76 C154.8,1193.48 155.15,1193.22 155.49,1193.05 C155.83,1192.89 156.18,1192.77 156.52,1192.74 C156.86,1192.72 157.21,1192.77 157.55,1192.9 C157.89,1193.03 158.24,1193.25 158.58,1193.54 C158.92,1193.84 159.27,1194.22 159.61,1194.65 C159.95,1195.09 160.3,1195.61 160.64,1196.16 C160.98,1196.71 161.33,1197.33 161.67,1197.95 C162.01,1198.58 162.23,1199.46 162.7,1199.9 C163.17,1200.34 163.87,1200.38 164.46,1200.61 C165.05,1200.85 165.64,1201.08 166.22,1201.3 C166.81,1201.52 167.4,1201.74 167.99,1201.94 C168.58,1202.14 169.16,1202.33 169.75,1202.5 C170.34,1202.68 170.92,1202.84 171.51,1202.98 C172.1,1203.12 172.69,1203.24 173.28,1203.34 C173.86,1203.44 174.45,1203.52 175.04,1203.58 C175.63,1203.64 176.51,1203.68 176.8,1203.7" fill="none" stroke="#000" stroke-opacity="0.69" stroke-width="4.8"/><path d="M91.9,1202.7 C92.67,1201.92 94.57,1199.35 96.5,1198 C98.43,1196.65 100.93,1195.43 103.5,1194.6 C106.07,1193.77 110.12,1192.78 111.9,1193 C113.68,1193.22 113.42,1194.98 114.18,1195.92 C114.94,1196.86 115.7,1197.79 116.46,1198.64 C117.22,1199.49 117.98,1200.3 118.74,1201.01 C119.5,1201.71 120.26,1202.35 121.02,1202.87 C121.78,1203.4 122.54,1203.83 123.3,1204.15 C124.06,1204.47 124.82,1204.69 125.58,1204.81 C126.34,1204.93 127.1,1204.94 127.86,1204.89 C128.62,1204.83 129.38,1204.66 130.14,1204.46 C130.9,1204.26 131.66,1203.97 132.42,1203.68 C133.18,1203.38 134.02,1203.29 134.7,1202.7 C135.38,1202.11 135.88,1200.98 136.47,1200.17 C137.06,1199.35 137.65,1198.54 138.24,1197.81 C138.83,1197.09 139.42,1196.4 140.01,1195.81 C140.6,1195.22 141.19,1194.69 141.78,1194.27 C142.37,1193.86 142.96,1193.53 143.55,1193.3 C144.14,1193.07 144.73,1192.95 145.32,1192.91 C145.91,1192.88 146.5,1192.95 147.09,1193.09 C147.68,1193.22 148.27,1193.46 148.86,1193.73 C149.45,1194.01 150.04,1194.36 150.63,1194.73 C151.22,1195.09 151.93,1195.38 152.4,1195.9 C152.87,1196.42 153.09,1197.22 153.43,1197.85 C153.77,1198.47 154.12,1199.09 154.46,1199.64 C154.8,1200.19 155.15,1200.71 155.49,1201.15 C155.83,1201.58 156.18,1201.96 156.52,1202.26 C156.86,1202.55 157.21,1202.77 157.55,1202.9 C157.89,1203.03 158.24,1203.08 158.58,1203.06 C158.92,1203.03 159.27,1202.91 159.61,1202.75 C159.95,1202.58 160.3,1202.32 160.64,1202.04 C160.98,1201.76 161.33,1201.4 161.67,1201.05 C162.01,1200.69 162.23,1200.21 162.7,1199.9 C163.17,1199.59 163.87,1199.4 164.46,1199.16 C165.05,1198.92 165.64,1198.68 166.22,1198.45 C166.81,1198.22 167.4,1197.99 167.99,1197.79 C168.58,1197.58 169.16,1197.38 169.75,1197.2 C170.34,1197.01 170.92,1196.85 171.51,1196.7 C172.1,1196.55 172.69,1196.42 173.28,1196.31 C173.86,1196.2 174.45,1196.11 175.04,1196.04 C175.63,1195.97 176.51,1195.92 176.8,1195.9" fill="none" stroke="#000" stroke-opacity="0.69" stroke-width="4.8"/>
<rect x="176.9" y="1186.3" width="51.4" height="26" rx="13" fill="#000" fill-opacity="0.57"/>
<defs><clipPath id="clipc23"><rect x="150" y="880" width="100" height="460"/></clipPath></defs>
<g clip-path="url(#clipc23)"><line x1="202" y1="593" x2="202" y2="1326" stroke="#d3d3d3" stroke-width="3.6" stroke-dasharray="7.3,7.3" stroke-dashoffset="0"/></g>
<circle cx="202.2" cy="974.9" r="79.5" fill="none" stroke="#d3d3d3" stroke-width="3.8"/>
<circle cx="202.2" cy="974.9" r="40.7" fill="none" stroke="#d3d3d3" stroke-width="3.8"/>
<path d="M214.8,896.4 A79.5,79.5 0 0 1 214.8,1053.4" fill="none" stroke="#f07a6a" stroke-width="5.5"/>
<path d="M191.9,935.5 A40.7,40.7 0 0 0 191.9,1014.3" fill="none" stroke="#f07a6a" stroke-width="5.5"/>
<circle cx="202" cy="1199.3" r="79.6" fill="none" stroke="#191970" stroke-width="5.8"/>
<circle cx="202" cy="1199.3" r="40.7" fill="none" stroke="#d3d3d3" stroke-width="3.8"/>
<circle cx="202" cy="1199.3" r="4.2" fill="#000"/>
<line x1="201" y1="974.9" x2="301.1" y2="974.9" stroke="#000" stroke-width="3.6"/><polyline points="288.6,966.7 302.1,974.9 288.6,983.1" fill="none" stroke="#000" stroke-width="3.6" stroke-linejoin="miter"/>
<polyline points="217.4,966.7 203.6,974.9 217.4,983.1" fill="none" stroke="#000" stroke-width="3.6" stroke-linejoin="miter"/>
<text transform="matrix(0.5123 0 0 0.4258 229.85 1015.5)" font-family="'Liberation Serif', 'Times New Roman', serif" font-size="100" fill="#000">&#916;</text>
<text transform="matrix(0.3905 0 0 0.3787 462.82 982.72)" font-family="'Liberation Serif', 'Times New Roman', serif" font-size="100" fill="#000"><tspan font-style="italic">v</tspan></text>
<text transform="matrix(0.2596 0 0 0.4 466.76 990.3)" font-family="'Liberation Serif', 'Times New Roman', serif" font-size="100" fill="#000">&#175;</text>
<text transform="matrix(0.5146 0 0 0.6471 492.66 993.83)" font-family="'Liberation Serif', 'Times New Roman', serif" font-size="100" fill="#000">~</text>
<text transform="matrix(0.4218 0 0 0.3833 535.86 958.23)" font-family="'Liberation Serif', 'Times New Roman', serif" font-size="100" fill="#000"><tspan font-style="italic">v</tspan><tspan font-size="70" dy="14">1</tspan><tspan dy="-14"> &#8722; </tspan><tspan font-style="italic">v</tspan><tspan font-size="70" dy="14">0</tspan></text>
<line x1="535.7" y1="972.8" x2="649.5" y2="972.8" stroke="#000" stroke-width="1.7"/>
<text transform="matrix(0.4039 0 0 0.3511 581.5 1008.15)" font-family="'Liberation Serif', 'Times New Roman', serif" font-size="100" fill="#000"><tspan font-style="italic">&#960;</tspan></text>
<text transform="matrix(0.219 0 0 0.4202 334.47 1179.62)" font-family="'Liberation Serif', 'Noto Serif CJK SC', serif" font-size="100" fill="#000" font-weight="500">&#12296;</text>
<text transform="matrix(0.35 0 0 0.4389 359.6 1174.18)" font-family="'Liberation Serif', 'Times New Roman', serif" font-size="100" fill="#000">|</text>
<text transform="matrix(0.4143 0 0 0.3872 368.77 1173.91)" font-family="'Liberation Serif', 'Times New Roman', serif" font-size="100" fill="#000"><tspan font-style="italic">v</tspan></text>
<text transform="matrix(0.35 0 0 0.4389 390.8 1174.18)" font-family="'Liberation Serif', 'Times New Roman', serif" font-size="100" fill="#000">|</text>
<text transform="matrix(0.2143 0 0 0.4202 401.04 1179.62)" font-family="'Liberation Serif', 'Noto Serif CJK SC', serif" font-size="100" fill="#000" font-weight="500">&#12297;</text>
<text transform="matrix(0.5596 0 0 0.404 425.5 1176.98)" font-family="'Liberation Serif', 'Times New Roman', serif" font-size="100" fill="#000">=</text>
<text transform="matrix(0.4233 0 0 0.4067 468.15 1174.51)" font-family="'Liberation Serif', 'Times New Roman', serif" font-size="100" fill="#000"><tspan font-style="italic">v</tspan><tspan font-size="70" dy="14">1</tspan></text>
<text transform="matrix(0.4381 0 0 0.4043 360.12 1234.4)" font-family="'Liberation Serif', 'Times New Roman', serif" font-size="100" fill="#000"><tspan font-style="italic">v</tspan></text>
<text transform="matrix(0.2923 0 0 0.4 364.79 1239.6)" font-family="'Liberation Serif', 'Times New Roman', serif" font-size="100" fill="#000">&#175;</text>
<text transform="matrix(0.5787 0 0 0.4 392.01 1237.4)" font-family="'Liberation Serif', 'Times New Roman', serif" font-size="100" fill="#000">=</text>
<text transform="matrix(0.4286 0 0 0.4269 435.19 1234.25)" font-family="'Liberation Serif', 'Times New Roman', serif" font-size="100" fill="#000">0</text>
<text transform="matrix(0.5467 0 0 0.4919 796.31 631.11)" font-family="'Liberation Sans', Arial, Helvetica, sans-serif" font-size="100" fill="#000">d</text>
<defs><clipPath id="clipd"><rect x="961.9" y="636.95" width="578.1" height="578.05"/></clipPath></defs>
<line x1="1251.4" y1="641.95" x2="1251.4" y2="1215.0" stroke="#dedede" stroke-width="3.4" stroke-dasharray="3.6,7.1"/>
<line x1="966.9" y1="925.7" x2="1538.0" y2="925.7" stroke="#dedede" stroke-width="3.4" stroke-dasharray="3.6,7.1"/>
<g clip-path="url(#clipd)" fill="none" stroke-width="5.1" stroke-linejoin="round">
<polygon points="1259.8,709.9 1227.8,713.1 1199.4,717.5 1170.1,725.5 1146.1,743.3 1120.4,757.5 1097.3,777.9 1081.3,802.8 1068,826.8 1054.6,850.8 1043.1,881 1045.8,920 1046.6,937.8 1052.9,966.2 1056.4,996.4 1063.5,1024.8 1076,1051.5 1095.5,1075.4 1118.6,1094.1 1140.8,1115.4 1162.1,1122.5 1197.6,1131.4 1229.6,1135.8 1258,1132.6 1287.3,1131.4 1312.2,1117.2 1338.8,1108.3 1360.1,1088.8 1386.8,1076.3 1402.8,1055 1420.5,1033.7 1438.3,1008.8 1452.5,984 1456.1,955.5 1456.1,924.5 1461.4,896.1 1454.3,867.6 1443.6,839.2 1428.5,817.9 1417.9,796.6 1406.3,782.4 1386.8,764.6 1370.8,746.8 1349.5,734.4 1321.1,725.5 1290.9,716.6" stroke="#191970"/>
<polygon points="1259.8,716.6 1233.2,723.8 1203,730 1176.3,740.6 1155,760.2 1131.9,775.3 1113.3,793 1099.1,814.4 1088.4,841 1080.4,873 1067.1,913 1065.3,930 1064.4,937.8 1068,962.6 1075.1,991.1 1094.6,1037.2 1107,1063.9 1124.8,1085.2 1144.4,1111 1167.5,1124.3 1199.4,1137.6 1229.6,1141.2 1260,1142.1 1285.5,1139.4 1321.1,1135.8 1349.5,1129.6 1381,1112 1405,1090 1427.6,1067.5 1454.3,1047.9 1468.5,1023 1482.7,994.6 1491.6,960 1488,930 1488,892.5 1468.5,832.1 1450,800 1425,778 1392.1,754 1365.5,738 1342.4,727.3 1317.5,719.3 1290.9,718.4" stroke="#42134a"/>
<polygon points="1259.8,745.1 1233.2,754.8 1210.1,762.8 1188.8,773.5 1171,788.6 1152.3,800.1 1126.6,833.9 1113.3,860.5 1103.5,894.3 1105.3,930 1104.4,936 1111.5,955.5 1113.3,999.1 1126.6,1021.3 1147.9,1055 1165.7,1072.8 1182.6,1094.1 1206.5,1107.4 1231.4,1119 1255,1123 1288.2,1135 1321.1,1129.6 1349.5,1126.1 1381.5,1111.9 1404.6,1097.6 1427.6,1076.3 1455,1052 1477.4,1026.6 1495.2,991.1 1504,960.9 1505.8,930 1498.7,903.2 1481,867.6 1466.7,830.3 1450,802 1427.6,778.8 1406.3,766.4 1388.6,756.6 1363.7,746 1340.6,738 1312.2,739.7 1282,746" stroke="#941212"/>
<polygon points="1259.8,780.6 1235,792.1 1219,796.6 1202.1,808.1 1176.3,828.6 1163.9,841.9 1158.6,857 1147,871.2 1142.6,887.2 1135.5,917.4 1136.4,930 1138.1,943.1 1140.8,982.2 1155,998.2 1171,1028.4 1187,1040.8 1208.3,1060.3 1233.2,1083.4 1255,1092 1282.9,1104.8 1303.3,1103 1338.8,1103 1374.4,1101.2 1409.9,1083.4 1457.8,1055 1484.5,1031.9 1511.1,1001.7 1514.7,968 1512.9,930 1507.6,889 1498.7,854.3 1480.9,822.3 1454.3,800.1 1427.6,778.8 1392.1,768.2 1361.9,760.2 1331.7,759.3 1303.3,766.4 1276.6,775.3" stroke="#c5463d"/>
<polygon points="1259.8,801.9 1240.3,805.5 1222.5,809 1208.3,820.6 1181.7,837.5 1165.7,857 1152.3,876.5 1144.4,905 1142.6,917.4 1144.4,930 1144.4,943.1 1147,978.6 1160.3,992.8 1176.3,1020.4 1190.5,1030.1 1206.5,1037.2 1220.7,1051.5 1236.7,1062.1 1260,1071 1278.4,1081.7 1303.3,1088.8 1335.3,1097.6 1361.9,1095.9 1392.1,1091.4 1404.6,1085.2 1427.6,1071 1454.3,1051.5 1479.2,1026.6 1498.7,996.4 1516.5,962.6 1511.1,926.3 1495.2,876.5 1473.8,826.8 1441.9,807.2 1413.4,791.3 1381.5,781.5 1349.5,782.4 1319.3,785.9 1285.5,794.8" stroke="#f07a6c"/>
<polygon points="1259.8,836.6 1241.2,834.8 1217.2,843.7 1187,861.4 1174.6,874.8 1165.7,899.6 1162.1,921 1164,934 1167,952 1172,968 1182,980.4 1197.6,994.6 1211.9,1003.5 1229.6,1014.2 1250,1018 1267.8,1023.9 1282,1025.7 1298,1022.1 1317.5,1025.7 1335.3,1019.5 1360.1,1017.7 1386.8,1012.4 1409,996.4 1410.8,971.5 1423.2,948.4 1423.2,930 1421.4,901.4 1409.9,880.1 1388.6,863.2 1365.5,851.7 1345.9,844.6 1326.4,841.9 1294.4,837.5" stroke="#fd8a1e"/>
<polygon points="1259.8,842.8 1243.8,843.1 1220.7,848.1 1201.2,856.1 1178.1,873 1171,881.9 1170.1,897.8 1163.9,919.2 1164.8,930 1164.8,934.2 1168.3,952 1173.7,968 1183.4,980.4 1190.5,991.1 1204.8,1001.7 1220.7,1007 1233.2,1006.2 1250,1006.8 1264.2,1003.5 1288.2,1004.4 1308.6,991.1 1319.3,980.4 1328.2,966.2 1337.9,950.2 1338.5,925 1337.9,906.7 1334.4,890.7 1326.4,878.3 1314,871.2 1301.5,853.4 1289.1,843.7 1266,841" stroke="#ffd500"/>
<path d="M1249.2,848 L1252.7,703.7 A222,222 0 0 1 1253.6,1147.7 L1248.3,1003.6 A77.7,77.7 0 0 1 1249.2,848" stroke="#6e6e6e" stroke-width="4" stroke-dasharray="13.5,7" stroke-dashoffset="16.2"/>
</g>
<line x1="998.9" y1="671.6" x2="1073" y2="671.6" stroke="#484a4a" stroke-width="5"/>
<polyline points="1059.5,661.5 1076.2,671.6 1059.5,681.7" fill="none" stroke="#484a4a" stroke-width="5.2" stroke-linejoin="round"/>
<text transform="matrix(0.5627 0 0 0.4851 1018.21 720.8)" font-family="'Liberation Serif', 'Times New Roman', serif" font-size="100" fill="#3c3e3e" font-weight="bold">n</text>
<text transform="matrix(0.4062 0 0 0.5067 1026.59 720.97)" font-family="'Liberation Serif', 'Times New Roman', serif" font-size="100" fill="#3c3e3e">&#710;</text>
<rect x="961.9" y="636.95" width="578.1" height="578.05" fill="none" stroke="#000" stroke-width="3.9"/>
<text x="918.5" y="1158.9" font-family="'Liberation Sans', Arial, Helvetica, sans-serif" font-size="31.5" fill="#000" text-anchor="end">&#8722;10</text>
<text x="1029.4" y="1281.2" font-family="'Liberation Sans', Arial, Helvetica, sans-serif" font-size="31.5" fill="#000" text-anchor="middle">&#8722;10</text>
<text x="918.5" y="1047.9" font-family="'Liberation Sans', Arial, Helvetica, sans-serif" font-size="31.5" fill="#000" text-anchor="end">&#8722;5</text>
<text x="1140.4" y="1281.2" font-family="'Liberation Sans', Arial, Helvetica, sans-serif" font-size="31.5" fill="#000" text-anchor="middle">&#8722;5</text>
<text x="918.5" y="936.9" font-family="'Liberation Sans', Arial, Helvetica, sans-serif" font-size="31.5" fill="#000" text-anchor="end">0</text>
<text x="1251.4" y="1281.2" font-family="'Liberation Sans', Arial, Helvetica, sans-serif" font-size="31.5" fill="#000" text-anchor="middle">0</text>
<text x="918.5" y="825.9" font-family="'Liberation Sans', Arial, Helvetica, sans-serif" font-size="31.5" fill="#000" text-anchor="end">5</text>
<text x="1362.4" y="1281.2" font-family="'Liberation Sans', Arial, Helvetica, sans-serif" font-size="31.5" fill="#000" text-anchor="middle">5</text>
<text x="918.5" y="714.9" font-family="'Liberation Sans', Arial, Helvetica, sans-serif" font-size="31.5" fill="#000" text-anchor="end">10</text>
<text x="1473.4" y="1281.2" font-family="'Liberation Sans', Arial, Helvetica, sans-serif" font-size="31.5" fill="#000" text-anchor="middle">10</text>
<path d="M946.4,1147.7 L961.9,1147.7 M1029.4,1215 L1029.4,1230.5 M946.4,1036.7 L961.9,1036.7 M1140.4,1215 L1140.4,1230.5 M946.4,925.7 L961.9,925.7 M1251.4,1215 L1251.4,1230.5 M946.4,814.7 L961.9,814.7 M1362.4,1215 L1362.4,1230.5 M946.4,703.7 L961.9,703.7 M1473.4,1215 L1473.4,1230.5" stroke="#000" stroke-width="3.6" fill="none"/>
<text transform="matrix(0.3656 0 0 0.3351 1184.71 1344.46)" font-family="'Liberation Sans', Arial, Helvetica, sans-serif" font-size="100" fill="#000"><tspan font-style="italic">v</tspan><tspan font-size="70" dy="16" font-style="italic">x</tspan><tspan dy="-16">(</tspan><tspan font-style="italic">&#956;m/s</tspan>)</text>
<text transform="rotate(-90) matrix(0.3673 0 0 0.324 -993.8 820.35)" font-family="'Liberation Sans', Arial, Helvetica, sans-serif" font-size="100" fill="#000"><tspan font-style="italic">v</tspan><tspan font-size="70" dy="16" font-style="italic">y</tspan><tspan dy="-16">(</tspan><tspan font-style="italic">&#956;m/s</tspan>)</text>
<defs><linearGradient id="cmap" x1="0" y1="1" x2="0" y2="0"><stop offset="0" stop-color="#191970"/><stop offset="0.2" stop-color="#8b0000"/><stop offset="0.4" stop-color="#fa8072"/><stop offset="0.6" stop-color="#ff8c00"/><stop offset="0.8" stop-color="#ffa500"/><stop offset="1" stop-color="#ffd700"/></linearGradient></defs>
<rect x="1568.3" y="636.9" width="40.7" height="577.8" fill="url(#cmap)" stroke="#000" stroke-width="3.7"/>
<text x="1652" y="1226.4" font-family="'Liberation Sans', Arial, Helvetica, sans-serif" font-size="31.5" fill="#000" text-anchor="start">0</text>
<text x="1652" y="1137.5" font-family="'Liberation Sans', Arial, Helvetica, sans-serif" font-size="31.5" fill="#000" text-anchor="start">2</text>
<text x="1652" y="1048.6" font-family="'Liberation Sans', Arial, Helvetica, sans-serif" font-size="31.5" fill="#000" text-anchor="start">4</text>
<text x="1652" y="959.7" font-family="'Liberation Sans', Arial, Helvetica, sans-serif" font-size="31.5" fill="#000" text-anchor="start">6</text>
<text x="1652" y="870.8" font-family="'Liberation Sans', Arial, Helvetica, sans-serif" font-size="31.5" fill="#000" text-anchor="start">8</text>
<text x="1652" y="781.9" font-family="'Liberation Sans', Arial, Helvetica, sans-serif" font-size="31.5" fill="#000" text-anchor="start">10</text>
<text x="1652" y="693" font-family="'Liberation Sans', Arial, Helvetica, sans-serif" font-size="31.5" fill="#000" text-anchor="start">12</text>
<path d="M1609,1215.2 L1625,1215.2 M1609,1126.3 L1625,1126.3 M1609,1037.4 L1625,1037.4 M1609,948.5 L1625,948.5 M1609,859.6 L1625,859.6 M1609,770.7 L1625,770.7 M1609,681.8 L1625,681.8" stroke="#000" stroke-width="3.6" fill="none"/>
<text transform="rotate(-90) matrix(0.358 0 0 0.3245 -974.07 1743.19)" font-family="'Liberation Sans', Arial, Helvetica, sans-serif" font-size="100" fill="#000">&#916;(<tspan font-style="italic">&#956;m</tspan>)</text>
</svg>
</body></html>
